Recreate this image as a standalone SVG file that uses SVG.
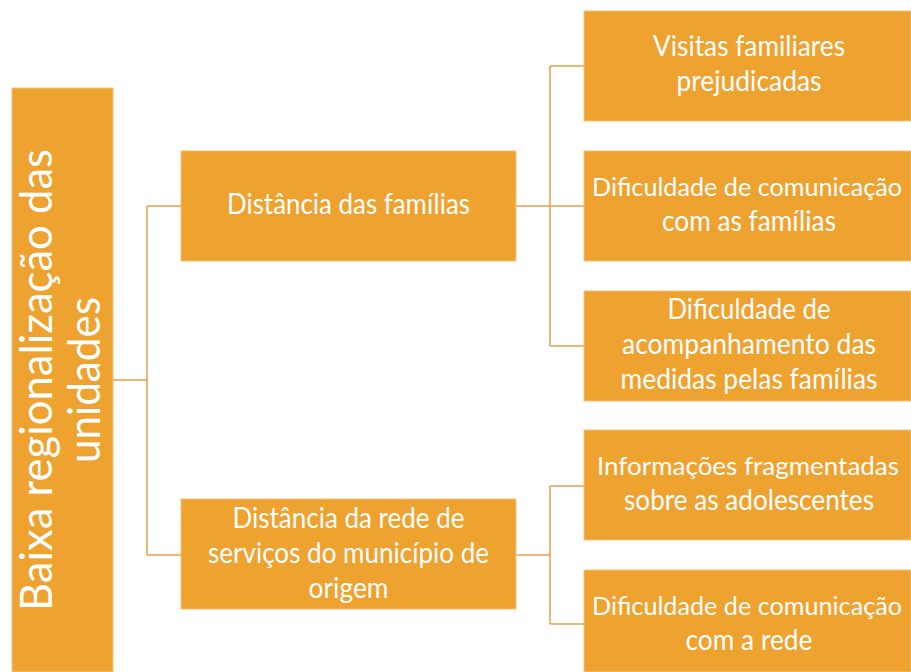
<svg xmlns="http://www.w3.org/2000/svg" width="911" height="672" viewBox="0 0 911 672">
<style>
.box{fill:#EEA22F;stroke:#F3C27A;stroke-width:1}
.t{font-family:Lato,"Liberation Sans",sans-serif;font-size:28px;fill:#FFFFFF;text-anchor:middle}
.sm{font-size:25.5px}
.big{font-size:45px}
.conn{fill:none;stroke:#E3A24E;stroke-width:1.5}
</style>
<rect width="911" height="672" fill="#FFFFFF"/>
<g id="connectors">
<path class="conn" d="M113,380 H147 M147,206 V555 M147,206 H181 M147,555 H181"/>
<path class="conn" d="M516,206 H584 M550,66 V346 M550,66 H584 M550,346 H584"/>
<path class="conn" d="M516,555 H550 M550,486 V624 M550,486 H584 M550,624 H584"/>
</g>
<g id="root">
<rect class="box" x="12" y="88" width="101" height="584"/>
<text class="t big" transform="translate(52,380) rotate(-90)" textLength="462" lengthAdjust="spacingAndGlyphs">Baixa regionalização das</text>
<text class="t big" transform="translate(100,380) rotate(-90)" textLength="166" lengthAdjust="spacingAndGlyphs">unidades</text>
</g>
<g id="mid1">
<rect class="box" x="181" y="151" width="335" height="110"/>
<text class="t" x="348.5" y="214" textLength="243" lengthAdjust="spacingAndGlyphs">Distância das famílias</text>
</g>
<g id="mid2">
<rect class="box" x="181" y="499" width="335" height="110"/>
<text class="t" x="348.5" y="528" textLength="232" lengthAdjust="spacingAndGlyphs">Distância da rede de</text>
<text class="t" x="348.5" y="563" textLength="281" lengthAdjust="spacingAndGlyphs">serviços do município de</text>
<text class="t" x="348.5" y="598" textLength="80" lengthAdjust="spacingAndGlyphs">origem</text>
</g>
<g id="r1">
<rect class="box" x="584" y="11" width="327" height="110"/>
<text class="t" x="749" y="56" textLength="192" lengthAdjust="spacingAndGlyphs">Visitas familiares</text>
<text class="t" x="749" y="91" textLength="145" lengthAdjust="spacingAndGlyphs">prejudicadas</text>
</g>
<g id="r2">
<rect class="box" x="584" y="151" width="327" height="110"/>
<text class="t sm" x="747" y="196" textLength="310" lengthAdjust="spacingAndGlyphs">Dificuldade de comunicação</text>
<text class="t" x="749" y="231" textLength="174" lengthAdjust="spacingAndGlyphs">com as famílias</text>
</g>
<g id="r3">
<rect class="box" x="584" y="291" width="327" height="110"/>
<text class="t" x="749" y="318.5" textLength="163" lengthAdjust="spacingAndGlyphs">Dificuldade de</text>
<text class="t" x="749" y="353.5" textLength="254" lengthAdjust="spacingAndGlyphs">acompanhamento das</text>
<text class="t" x="749" y="388.5" textLength="257" lengthAdjust="spacingAndGlyphs">medidas pelas famílias</text>
</g>
<g id="r4">
<rect class="box" x="584" y="430" width="327" height="110"/>
<text class="t sm" x="748" y="475" textLength="302" lengthAdjust="spacingAndGlyphs">Informações fragmentadas</text>
<text class="t" x="749" y="510" textLength="250" lengthAdjust="spacingAndGlyphs">sobre as adolescentes</text>
</g>
<g id="r5">
<rect class="box" x="584" y="570" width="327" height="102"/>
<text class="t sm" x="747" y="615" textLength="310" lengthAdjust="spacingAndGlyphs">Dificuldade de comunicação</text>
<text class="t" x="749" y="650" textLength="127" lengthAdjust="spacingAndGlyphs">com a rede</text>
</g>
</svg>
